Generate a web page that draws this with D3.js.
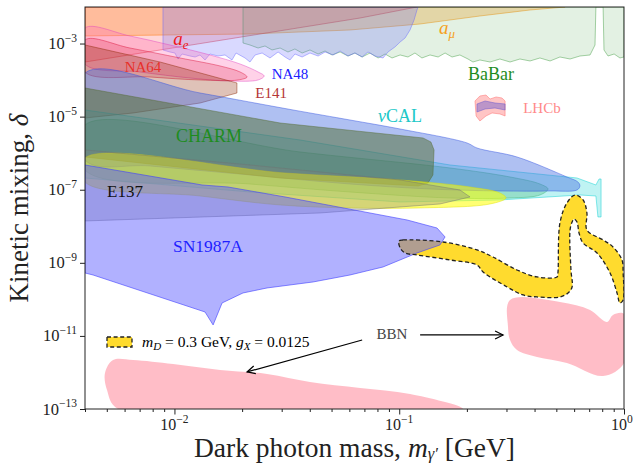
<!DOCTYPE html>
<html>
<head>
<meta charset="utf-8">
<script src="https://cdn.jsdelivr.net/npm/d3@7"></script>
<style>
  body { margin: 0; background: #fff; }
  svg text { font-family: "Liberation Serif", "Times New Roman", serif; }
</style>
</head>
<body>
<div id="chart"></div>
<script>
// every region: list of [log10(m / GeV), log10(delta)]
var a_mu = [[-2.398,-2.0],[-2.398,-2.793],[-1.664,-2.739],[-1.219,-2.629],[-0.907,-2.465],[-0.641,-2.246],[-0.418,-2.082],[-0.262,-2.0]];
var a_e = [[-2.398,-2.0],[-2.398,-3.505],[-1.174,-2.301],[-0.921,-2.0]];
var babar = [[-1.695,-2.0],[-1.695,-2.985],[-1.664,-3.040],[-1.628,-3.122],[-1.597,-3.067],[-1.566,-3.176],[-1.530,-3.122],[-1.495,-3.231],[-1.464,-3.149],[-1.432,-3.259],[-1.397,-3.176],[-1.361,-3.286],[-1.330,-3.204],[-1.299,-3.313],[-1.263,-3.231],[-1.228,-3.341],[-1.197,-3.259],[-1.165,-3.368],[-1.130,-3.259],[-1.094,-3.395],[-1.063,-3.286],[-1.032,-3.395],[-0.996,-3.313],[-0.961,-3.368],[-0.930,-3.259],[-0.899,-3.395],[-0.863,-3.313],[-0.827,-3.368],[-0.796,-3.259],[-0.765,-3.368],[-0.730,-3.313],[-0.694,-3.423],[-0.672,-3.505],[-0.641,-3.450],[-0.596,-3.505],[-0.552,-3.423],[-0.507,-3.505],[-0.463,-3.423],[-0.418,-3.477],[-0.374,-3.395],[-0.329,-3.477],[-0.285,-3.368],[-0.240,-3.423],[-0.196,-3.341],[-0.151,-3.313],[-0.129,-3.040],[-0.125,-2.0],[-0.093,-2.0],[-0.089,-3.176],[-0.071,-3.341],[-0.044,-3.286],[-0.018,-3.395],[0,-3.368],[0,-2.0]];
var na48 = [[-2.051,-2.0],[-2.051,-3.176],[-2.020,-3.231],[-1.998,-3.259],[-1.984,-3.423],[-1.966,-3.286],[-1.931,-3.341],[-1.908,-3.368],[-1.886,-3.313],[-1.864,-3.450],[-1.842,-3.286],[-1.806,-3.341],[-1.775,-3.313],[-1.744,-3.450],[-1.726,-3.259],[-1.686,-3.395],[-1.664,-3.505],[-1.641,-3.313],[-1.610,-3.259],[-1.575,-3.395],[-1.539,-3.231],[-1.508,-3.368],[-1.486,-3.450],[-1.464,-3.286],[-1.432,-3.368],[-1.397,-3.259],[-1.361,-3.341],[-1.330,-3.231],[-1.294,-3.313],[-1.263,-3.204],[-1.228,-3.341],[-1.197,-3.259],[-1.165,-3.368],[-1.139,-3.231],[-1.108,-3.341],[-1.072,-3.395],[-1.050,-3.231],[-1.019,-3.094],[-0.996,-2.958],[-0.974,-2.848],[-0.952,-2.629],[-0.934,-2.356],[-0.921,-2.082],[-0.916,-2.0]];
var na64_outer = [[-2.398,-2.575],[-2.198,-2.793],[-2.020,-3.040],[-1.842,-3.313],[-1.708,-3.560],[-1.628,-3.778],[-1.601,-3.888],[-1.628,-3.997],[-1.753,-4.025],[-1.931,-3.943],[-2.153,-3.778],[-2.398,-3.560]];
var na64_inner = [[-2.398,-2.903],[-2.198,-3.122],[-1.975,-3.395],[-1.797,-3.614],[-1.708,-3.778],[-1.677,-3.915],[-1.717,-3.997],[-1.886,-3.997],[-2.109,-3.915],[-2.398,-3.778]];
var e141 = [[-2.398,-3.040],[-2.064,-3.505],[-1.722,-4.079],[-1.722,-4.353],[-1.886,-4.627],[-2.184,-4.900],[-2.398,-5.037]];
var nucal = [[-2.398,-4.818],[-1.441,-5.639],[-0.774,-6.323],[-0.209,-6.679],[-0.125,-6.870],[-0.111,-6.706],[-0.102,-6.706],[-0.102,-7.746],[-0.116,-7.746],[-0.125,-7.171],[-0.196,-7.144],[-0.552,-7.280],[-0.996,-7.335],[-1.664,-7.062],[-2.398,-6.679]];
var green_lens = [[-2.398,-5.228],[-1.441,-5.967],[-0.774,-6.405],[-0.507,-6.651],[-0.374,-6.843],[-0.338,-6.980],[-0.374,-7.144],[-0.507,-7.226],[-0.774,-7.226],[-1.219,-7.062],[-1.664,-6.843],[-2.398,-6.460]];
var blue_lens = [[-2.398,-3.806],[-1.886,-4.353],[-1.472,-4.818],[-1.219,-5.092],[-0.996,-5.338],[-0.698,-5.721],[-0.654,-5.858],[-0.476,-6.104],[-0.254,-6.651],[-0.205,-6.788],[-0.196,-6.898],[-0.209,-7.007],[-0.329,-7.034],[-0.552,-7.034],[-0.863,-6.980],[-1.219,-6.843],[-1.664,-6.596],[-2.109,-6.350],[-2.398,-6.186]];
var charm = [[-2.398,-4.216],[-1.530,-5.174],[-0.894,-5.584],[-0.859,-5.694],[-0.845,-5.912],[-0.850,-6.596],[-0.872,-6.815],[-0.916,-6.898],[-1.530,-6.679],[-2.398,-6.104]];
var yellow_lens = [[-2.398,-6.131],[-1.508,-6.542],[-0.996,-6.733],[-0.685,-6.925],[-0.552,-7.089],[-0.525,-7.226],[-0.596,-7.390],[-0.907,-7.499],[-1.219,-7.499],[-1.530,-7.417],[-1.886,-7.171],[-2.398,-6.788]];
var e137 = [[-2.398,-5.912],[-1.664,-6.323],[-0.996,-6.733],[-0.730,-7.007],[-0.685,-7.198],[-0.819,-7.390],[-1.352,-7.636],[-2.398,-7.855]];
var sn1987a = [[-2.398,-6.323],[-1.877,-6.870],[-1.762,-6.925],[-1.508,-7.198],[-0.965,-7.828],[-0.832,-8.047],[-0.796,-8.293],[-0.819,-8.512],[-0.921,-8.731],[-1.072,-9.114],[-1.219,-9.333],[-1.383,-9.524],[-1.588,-9.688],[-1.695,-9.825],[-1.788,-10.098],[-1.828,-10.700],[-1.864,-10.345],[-2.362,-9.333],[-2.398,-9.278]];
var lhcb = [[-0.663,-4.572],[-0.641,-4.435],[-0.614,-4.408],[-0.596,-4.517],[-0.569,-4.462],[-0.543,-4.490],[-0.529,-4.572],[-0.529,-4.982],[-0.552,-4.927],[-0.587,-4.900],[-0.614,-4.982],[-0.641,-5.119],[-0.658,-4.982]];
var lhcb_core = [[-0.654,-4.654],[-0.618,-4.572],[-0.574,-4.627],[-0.529,-4.654],[-0.529,-4.818],[-0.574,-4.763],[-0.618,-4.791],[-0.654,-4.873]];
var bbn_high = [[-0.507,-10.016],[-0.285,-10.071],[-0.151,-10.290],[-0.076,-10.618],[-0.049,-10.427],[0,-10.399],[0,-11.740],[-0.093,-12.096],[-0.254,-11.740],[-0.387,-11.576],[-0.476,-11.384],[-0.507,-11.111],[-0.516,-10.755]];
var bbn_low = [[-2.273,-11.658],[-2.184,-11.658],[-2.006,-11.768],[-1.797,-11.932],[-1.588,-12.041],[-1.397,-12.260],[-1.174,-12.424],[-0.952,-12.588],[-0.716,-13.0],[-2.251,-13.0],[-2.300,-12.479],[-2.309,-12.014]];
// relic band for m_D = 0.3 GeV, g_X = 0.0125
var model_band = [[-1.001,-8.402],[-0.983,-8.375],[-0.805,-8.430],[-0.654,-8.648],[-0.583,-8.840],[-0.476,-9.196],[-0.387,-9.387],[-0.298,-9.387],[-0.294,-9.278],[-0.285,-7.910],[-0.254,-7.362],[-0.218,-7.144],[-0.182,-7.280],[-0.165,-7.636],[-0.165,-8.102],[-0.093,-8.375],[-0.049,-8.566],[-0.009,-8.922],[-0.004,-9.278],[-0.004,-10.016],[-0.018,-10.098],[-0.031,-9.825],[-0.062,-9.278],[-0.120,-8.731],[-0.182,-8.457],[-0.200,-8.184],[-0.209,-7.883],[-0.222,-7.800],[-0.231,-7.883],[-0.240,-8.102],[-0.236,-9.196],[-0.231,-9.661],[-0.249,-9.825],[-0.285,-9.934],[-0.387,-9.934],[-0.449,-9.880],[-0.520,-9.661],[-0.627,-9.251],[-0.654,-9.059],[-0.774,-8.922],[-0.921,-8.785],[-0.974,-8.731],[-0.996,-8.594]];

// label anchors (baseline middle), same log units
var labels = [
  {name: "a_e", at: [-1.971, -3.040]},
  {name: "NA64", at: [-2.140, -3.778]},
  {name: "NA48", at: [-1.486, -3.970]},
  {name: "E141", at: [-1.570, -4.490]},
  {name: "a_mu", at: [-0.787, -2.739]},
  {name: "BaBar", at: [-0.592, -3.997]},
  {name: "LHCb", at: [-0.365, -4.900]},
  {name: "nuCAL", at: [-0.996, -5.146]},
  {name: "CHARM", at: [-1.846, -5.694]},
  {name: "E137", at: [-2.220, -7.198]},
  {name: "SN1987A", at: [-1.851, -8.703]},
  {name: "BBN", at: [-1.032, -11.083]}
];
var bbn_arrows = [
  {from: [-1.165, -11.111], to: [-1.677, -11.986]},
  {from: [-0.907, -10.974], to: [-0.538, -10.974]}
];

var xTickMajor = [1e-2, 1e-1, 1];
var yTickMajor = [1e-13, 1e-11, 1e-9, 1e-7, 1e-5, 1e-3];

var W = 634, H = 464;
var plot = {left: 85, right: 624, top: 7, bottom: 409};

var x = d3.scaleLog().domain([0.004, 1]).range([plot.left, plot.right]);
var y = d3.scaleLog().domain([1e-13, 1e-2]).range([plot.bottom, plot.top]);

function pos(p){ return [x(Math.pow(10, p[0])), y(Math.pow(10, p[1]))]; }
function pts(arr){ return arr.map(pos); }

var straight = d3.line().curve(d3.curveLinearClosed);
var smooth = d3.line().curve(d3.curveCatmullRomClosed.alpha(0.5));

var svg = d3.select("#chart").append("svg")
  .attr("width", W).attr("height", H);

var defs = svg.append("defs");
defs.append("clipPath").attr("id", "clip")
  .append("rect")
    .attr("x", plot.left).attr("y", plot.top)
    .attr("width", plot.right - plot.left).attr("height", plot.bottom - plot.top);

defs.append("marker")
    .attr("id", "arrow")
    .attr("markerUnits", "userSpaceOnUse")
    .attr("viewBox", "-10 -6 12 12")
    .attr("refX", 0).attr("refY", 0)
    .attr("markerWidth", 12).attr("markerHeight", 12)
    .attr("orient", "auto")
  .append("path")
    .attr("d", "M-8,-4 L0,0 L-8,4")
    .attr("fill", "none").attr("stroke", "#000").attr("stroke-width", 1.2);

var g = svg.append("g").attr("clip-path", "url(#clip)");

// draw order matters for the blended colours
var regions = [
  {d: a_mu, fill: "#ff8c00", op: 0.27, curve: straight, stroke: "#ff8c00"},
  {d: a_e, fill: "#ff0000", op: 0.16, curve: straight, stroke: "#e03030"},
  {d: babar, fill: "#3c9a3c", op: 0.14, curve: straight, stroke: "#3c9a3c"},
  {d: na48, fill: "#6666ff", op: 0.25, curve: straight, stroke: "#6666ff"},
  {d: na64_outer, fill: "#ff69b4", op: 0.3, curve: smooth, stroke: "#e040c0"},
  {d: na64_inner, fill: "#dc143c", op: 0.22, curve: smooth, stroke: "#dc143c"},
  {d: e141, fill: "#8b2500", op: 0.28, curve: straight, stroke: "#8b2500"},
  {d: nucal, fill: "#00ced1", op: 0.25, curve: straight, stroke: "#00ced1"},
  {d: green_lens, fill: "#3cb371", op: 0.3, curve: smooth, stroke: "#3cb371"},
  {d: blue_lens, fill: "#4169e1", op: 0.42, curve: smooth, stroke: "#3050e0"},
  {d: charm, fill: "#4f6b30", op: 0.5, curve: straight, stroke: "#556b2f"},
  {d: yellow_lens, fill: "#ffff00", op: 0.55, curve: smooth, stroke: "#e0e000"},
  {d: e137, fill: "#808080", op: 0.33, curve: straight, stroke: "#707070"}
];

regions.forEach(function(r){
  g.append("path")
    .attr("d", r.curve(pts(r.d)))
    .attr("fill", r.fill)
    .attr("fill-opacity", r.op)
    .attr("stroke", r.stroke)
    .attr("stroke-opacity", 0.45)
    .attr("stroke-width", 1);
});

// model band fill sits under SN1987A, its outline goes on top later
var bandPath = smooth(pts(model_band));
g.append("path").attr("d", bandPath).attr("fill", "#ffdb2e");

g.append("path")
  .attr("d", straight(pts(sn1987a)))
  .attr("fill", "#5a5aff").attr("fill-opacity", 0.47)
  .attr("stroke", "#4040ff").attr("stroke-opacity", 0.6).attr("stroke-width", 1);

g.append("path").attr("d", straight(pts(lhcb)))
  .attr("fill", "#ff6f6f").attr("fill-opacity", 0.4)
  .attr("stroke", "#ff6f6f").attr("stroke-opacity", 0.5);
g.append("path").attr("d", straight(pts(lhcb_core)))
  .attr("fill", "#6a5acd").attr("fill-opacity", 0.45)
  .attr("stroke", "#6a5acd").attr("stroke-opacity", 0.5);

[bbn_high, bbn_low].forEach(function(b){
  g.append("path").attr("d", smooth(pts(b)))
    .attr("fill", "#ffb6c1").attr("fill-opacity", 0.9);
});

g.append("path").attr("d", bandPath)
  .attr("fill", "none").attr("stroke", "#222")
  .attr("stroke-width", 1.3).attr("stroke-dasharray", "4,2.6");

// labels
var lab = svg.append("g").attr("text-anchor", "middle");
function addLabel(name, color, size){
  var l = labels.filter(function(d){ return d.name == name; })[0];
  var p = pos(l.at);
  return lab.append("text").attr("x", p[0]).attr("y", p[1])
    .attr("fill", color).attr("font-size", size);
}
var t;
t = addLabel("a_e", "#f01818", 19);
t.append("tspan").attr("font-style", "italic").text("a");
t.append("tspan").attr("font-style", "italic").attr("font-size", 13).attr("dy", 4).text("e");
addLabel("NA64", "#e8302a", 15).text("NA64");
addLabel("NA48", "#2020ff", 15).text("NA48");
addLabel("E141", "#b53535", 15).text("E141");
t = addLabel("a_mu", "#f5a020", 19);
t.append("tspan").attr("font-style", "italic").text("a");
t.append("tspan").attr("font-style", "italic").attr("font-size", 13).attr("dy", 4).text("μ");
addLabel("BaBar", "#1e8c1e", 18).text("BaBar");
addLabel("LHCb", "#ff8a8a", 15).text("LHCb");
t = addLabel("nuCAL", "#20c8c8", 18);
t.append("tspan").attr("font-style", "italic").text("ν");
t.append("tspan").text("CAL");
addLabel("CHARM", "#1e8c1e", 18).text("CHARM");
addLabel("E137", "#111", 17).text("E137");
addLabel("SN1987A", "#1e1eff", 17.5).text("SN1987A");
addLabel("BBN", "#444", 15).text("BBN");

bbn_arrows.forEach(function(a){
  var p0 = pos(a.from), p1 = pos(a.to);
  svg.append("line")
    .attr("x1", p0[0]).attr("y1", p0[1]).attr("x2", p1[0]).attr("y2", p1[1])
    .attr("stroke", "#000").attr("stroke-width", 1.2)
    .attr("marker-end", "url(#arrow)");
});

// legend
var leg = svg.append("g").attr("transform", "translate(" + (plot.left + 22) + "," + (plot.top + 330) + ")");
leg.append("rect").attr("width", 25).attr("height", 10)
  .attr("fill", "#ffdb2e").attr("stroke", "#222").attr("stroke-width", 1.3)
  .attr("stroke-dasharray", "4,2.6");
var lt = leg.append("text").attr("x", 35).attr("y", 10).attr("font-size", 15.5);
lt.append("tspan").attr("font-style", "italic").text("m");
lt.append("tspan").attr("font-style", "italic").attr("font-size", 11).attr("dy", 3).text("D");
lt.append("tspan").attr("dy", -3).text(" = 0.3 GeV, ");
lt.append("tspan").attr("font-style", "italic").text("g");
lt.append("tspan").attr("font-style", "italic").attr("font-size", 11).attr("dy", 3).text("X");
lt.append("tspan").attr("dy", -3).text(" = 0.0125");

// axes
var minor = x.ticks().filter(function(d){ return xTickMajor.indexOf(d) < 0; });
svg.append("g")
  .attr("transform", "translate(0," + plot.bottom + ")")
  .call(d3.axisBottom(x).tickValues(minor).tickSize(3).tickFormat("").tickSizeOuter(0))
  .call(function(s){ s.select(".domain").remove(); });
var xa = svg.append("g")
  .attr("transform", "translate(0," + plot.bottom + ")")
  .call(d3.axisBottom(x).tickValues(xTickMajor).tickSize(5.5).tickFormat("").tickSizeOuter(0));
xa.select(".domain").remove();
var ya = svg.append("g")
  .attr("transform", "translate(" + plot.left + ",0)")
  .call(d3.axisLeft(y).tickValues(yTickMajor).tickSize(5).tickFormat("").tickSizeOuter(0));
ya.select(".domain").remove();
svg.selectAll(".tick line").attr("stroke", "#222");

xTickMajor.forEach(function(v){
  var e = Math.round(Math.log10(v));
  var tx = svg.append("text").attr("x", x(v)).attr("y", plot.bottom + 21)
    .attr("text-anchor", "middle").attr("font-size", 16).attr("fill", "#222");
  tx.append("tspan").text("10");
  tx.append("tspan").attr("font-size", 11.5).attr("dy", -7).text(e < 0 ? "−" + (-e) : e);
  // keep the last label inside the page
  var bb = tx.node().getBBox();
  if (bb.x + bb.width > W - 1) tx.attr("x", x(v) - (bb.x + bb.width - W + 1));
});
yTickMajor.forEach(function(v){
  var e = Math.round(Math.log10(v));
  var ty = svg.append("text").attr("x", plot.left - 8).attr("y", y(v) + 5.5)
    .attr("text-anchor", "end").attr("font-size", 16.5).attr("fill", "#222");
  ty.append("tspan").text("10");
  ty.append("tspan").attr("font-size", 11.5).attr("dy", -7.5).text("−" + (-e));
});

svg.append("rect")
  .attr("x", plot.left).attr("y", plot.top)
  .attr("width", plot.right - plot.left).attr("height", plot.bottom - plot.top)
  .attr("fill", "none").attr("stroke", "#222").attr("stroke-width", 1);

// axis titles
var xl = svg.append("text").attr("x", (plot.left + plot.right) / 2).attr("y", 457)
  .attr("text-anchor", "middle").attr("font-size", 27.5).attr("fill", "#222");
xl.append("tspan").text("Dark photon mass, ");
xl.append("tspan").attr("font-style", "italic").text("m");
xl.append("tspan").attr("font-style", "italic").attr("font-size", 16.5).attr("dy", 2).text("γ′");
xl.append("tspan").attr("dy", -2).text(" [GeV]");

var yl = svg.append("text")
  .attr("transform", "translate(28," + ((plot.top + plot.bottom) / 2) + ") rotate(-90)")
  .attr("text-anchor", "middle").attr("font-size", 27).attr("fill", "#222");
yl.append("tspan").text("Kinetic mixing, ");
yl.append("tspan").attr("font-style", "italic").text("δ");
</script>
</body>
</html>
